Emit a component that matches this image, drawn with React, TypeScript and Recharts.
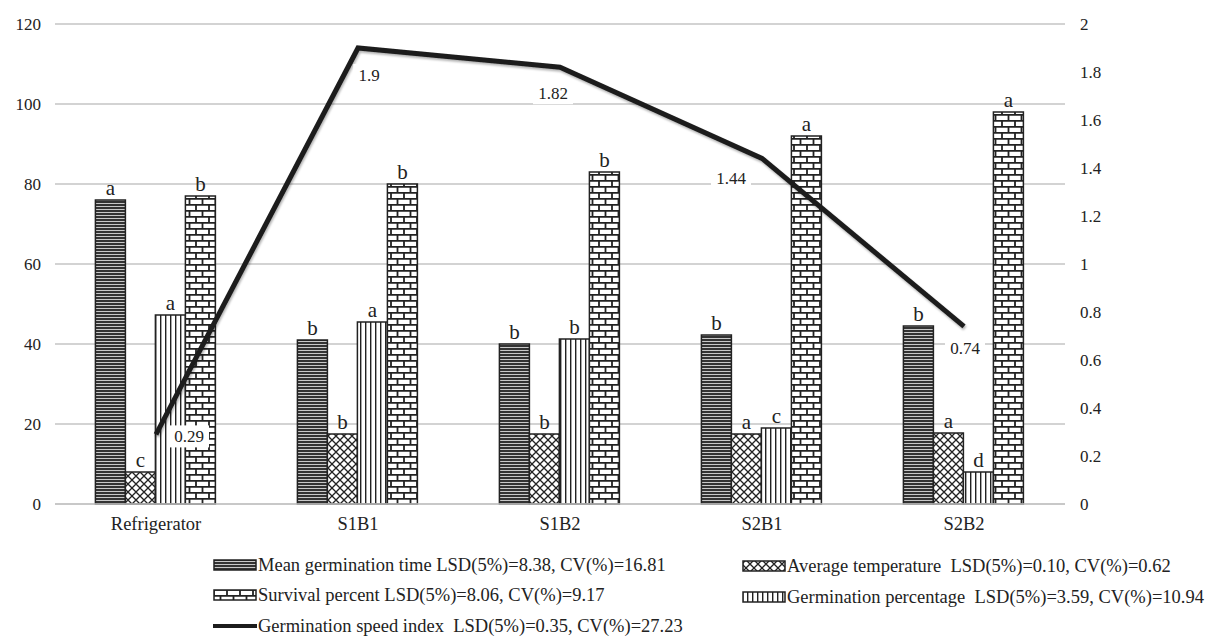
import { ComposedChart, Bar, Line, XAxis, YAxis, CartesianGrid, LabelList } from "recharts"

const categories = ["Refrigerator", "S1B1", "S1B2", "S2B1", "S2B2"]
const meanGerminationTime = [76, 41, 40, 42.25, 44.5]
const averageTemperature = [8, 17.5, 17.5, 17.5, 17.75]
const germinationPercentage = [47.25, 45.5, 41.25, 19, 8]
const survivalPercent = [77, 80, 83, 92, 98]
const germinationSpeedIndex = [0.29, 1.9, 1.82, 1.44, 0.74]

const mgtLetters = ["a", "b", "b", "b", "b"]
const atLetters = ["c", "b", "b", "a", "a"]
const gpLetters = ["a", "a", "b", "c", "d"]
const spLetters = ["b", "b", "b", "a", "a"]

const leftTicks = [0, 20, 40, 60, 80, 100, 120]
const rightTicks = [0, 0.2, 0.4, 0.6, 0.8, 1, 1.2, 1.4, 1.6, 1.8, 2]

const FONT = "'Liberation Serif', 'DejaVu Serif', serif"
const INK = "#222"

const chartData = categories.map((name, i) => ({
  name,
  mgt: meanGerminationTime[i],
  at: averageTemperature[i],
  gp: germinationPercentage[i],
  sp: survivalPercent[i],
  gsi: germinationSpeedIndex[i],
  mgtL: mgtLetters[i],
  atL: atLetters[i],
  gpL: gpLetters[i],
  spL: spLetters[i],
}))

// where each GSI value label sits relative to its point
const gsiLabelOffsets = [
  [33, 2],
  [11, 27],
  [-7, 26],
  [-31, 20],
  [1, 22],
]

function Patterns() {
  return (
    <defs>
      <pattern id="pHoriz" width="6" height="3" patternUnits="userSpaceOnUse">
        <rect width="6" height="3" fill="#c8c8c8" />
        <rect width="6" height="2" fill="#333" />
      </pattern>
      <pattern id="pWeave" width="8" height="8" patternUnits="userSpaceOnUse">
        <rect width="8" height="8" fill="#fff" />
        <path d="M0,4 L4,0 M4,8 L8,4 M0,4 L4,8 M4,0 L8,4" stroke="#222" strokeWidth="1.3" fill="none" />
      </pattern>
      <pattern id="pVert" width="5" height="10" patternUnits="userSpaceOnUse">
        <rect width="5" height="10" fill="#fff" />
        <rect width="1.4" height="10" fill="#222" />
      </pattern>
      <pattern id="pBrick" width="13" height="12" patternUnits="userSpaceOnUse">
        <rect width="13" height="12" fill="#fff" />
        <path d="M0,0.8 H13 M0,6.8 H13 M1,0 V6 M7.5,6 V12" stroke="#222" strokeWidth="1.8" fill="none" />
      </pattern>
      <filter id="lineShadow" x="-10%" y="-10%" width="120%" height="130%">
        <feDropShadow dx="1" dy="2" stdDeviation="1" floodColor="#000" floodOpacity="0.3" />
      </filter>
    </defs>
  )
}

function GsiLabel(props: any) {
  const { x, y, value, index } = props
  const [dx, dy] = gsiLabelOffsets[index] ?? [0, 20]
  const cx = x + dx
  const cy = y + dy
  const w = String(value).length * 8.5 + 6
  return (
    <g>
      <rect x={cx - w / 2} y={cy - 11} width={w} height={22} fill="#fff" />
      <text x={cx} y={cy} textAnchor="middle" dominantBaseline="central" fontSize={17} fill={INK} fontFamily={FONT}>
        {value}
      </text>
    </g>
  )
}

const letterStyle = { fontSize: 21, fill: INK, fontFamily: FONT }

function LegendIcon({ fill }: { fill: string }) {
  return (
    <svg width={44} height={12} style={{ marginRight: 1 }}>
      <rect x={1} y={1} width={42} height={10} fill={fill} stroke="#222" strokeWidth={1.5} />
    </svg>
  )
}

function LegendRow({ icon, text, left, center }: { icon: React.ReactNode; text: string; left: number; center: number }) {
  return (
    <div
      style={{
        position: "absolute",
        left,
        top: center - 11,
        height: 22,
        display: "flex",
        alignItems: "center",
        whiteSpace: "pre",
        fontSize: 18.5,
        lineHeight: "22px",
        color: INK,
      }}
    >
      {icon}
      <span>{text}</span>
    </div>
  )
}

export default function App() {
  return (
    <div style={{ position: "absolute", left: 0, top: 0, width: 1205, height: 637, background: "#fff", fontFamily: FONT, overflow: "hidden" }}>
      <ComposedChart
        width={1205}
        height={637}
        data={chartData}
        margin={{ top: 24, right: 0, left: 0, bottom: 103 }}
        barCategoryGap="20%"
        barGap={0}
      >
        <Patterns />
        <CartesianGrid vertical={false} yAxisId="left" stroke="#c4c4c4" strokeWidth={1.5} />
        <XAxis
          dataKey="name"
          height={30}
          tickLine={false}
          tickSize={0}
          tickMargin={13}
          axisLine={{ stroke: "#c4c4c4", strokeWidth: 1.5 }}
          tick={{ fontSize: 18.5, fill: INK, fontFamily: FONT }}
        />
        <YAxis
          yAxisId="left"
          width={55}
          domain={[0, 120]}
          ticks={leftTicks}
          tickLine={false}
          axisLine={false}
          tickSize={0}
          tickMargin={14}
          tick={{ fontSize: 17, fill: INK, fontFamily: FONT }}
        />
        <YAxis
          yAxisId="right"
          orientation="right"
          width={140}
          domain={[0, 2]}
          ticks={rightTicks}
          tickLine={false}
          axisLine={false}
          tickSize={0}
          tickMargin={15}
          tick={{ fontSize: 17, fill: INK, fontFamily: FONT }}
        />
        <Bar yAxisId="left" dataKey="mgt" fill="url(#pHoriz)" stroke="#222" strokeWidth={1.5} isAnimationActive={false}>
          <LabelList dataKey="mgtL" position="top" offset={5} style={letterStyle} />
        </Bar>
        <Bar yAxisId="left" dataKey="at" fill="url(#pWeave)" stroke="#222" strokeWidth={1.5} isAnimationActive={false}>
          <LabelList dataKey="atL" position="top" offset={5} style={letterStyle} />
        </Bar>
        <Bar yAxisId="left" dataKey="gp" fill="url(#pVert)" stroke="#222" strokeWidth={1.5} isAnimationActive={false}>
          <LabelList dataKey="gpL" position="top" offset={5} style={letterStyle} />
        </Bar>
        <Bar yAxisId="left" dataKey="sp" fill="url(#pBrick)" stroke="#222" strokeWidth={1.5} isAnimationActive={false}>
          <LabelList dataKey="spL" position="top" offset={5} style={letterStyle} />
        </Bar>
        <Line
          yAxisId="right"
          dataKey="gsi"
          type="linear"
          stroke="#1c1c1c"
          strokeWidth={5}
          dot={false}
          activeDot={false}
          filter="url(#lineShadow)"
          isAnimationActive={false}
        >
          <LabelList dataKey="gsi" content={<GsiLabel />} />
        </Line>
      </ComposedChart>

      <LegendRow left={213} center={565} icon={<LegendIcon fill="url(#pHoriz)" />} text="Mean germination time LSD(5%)=8.38, CV(%)=16.81" />
      <LegendRow left={742} center={566} icon={<LegendIcon fill="url(#pWeave)" />} text="Average temperature  LSD(5%)=0.10, CV(%)=0.62" />
      <LegendRow left={213} center={595} icon={<LegendIcon fill="url(#pBrick)" />} text="Survival percent LSD(5%)=8.06, CV(%)=9.17" />
      <LegendRow left={742} center={597} icon={<LegendIcon fill="url(#pVert)" />} text="Germination percentage  LSD(5%)=3.59, CV(%)=10.94" />
      <LegendRow
        left={213}
        center={626}
        icon={
          <svg width={44} height={12} style={{ marginRight: 1 }}>
            <line x1={0} y1={6} x2={44} y2={6} stroke="#1c1c1c" strokeWidth={4} />
          </svg>
        }
        text="Germination speed index  LSD(5%)=0.35, CV(%)=27.23"
      />
    </div>
  )
}
